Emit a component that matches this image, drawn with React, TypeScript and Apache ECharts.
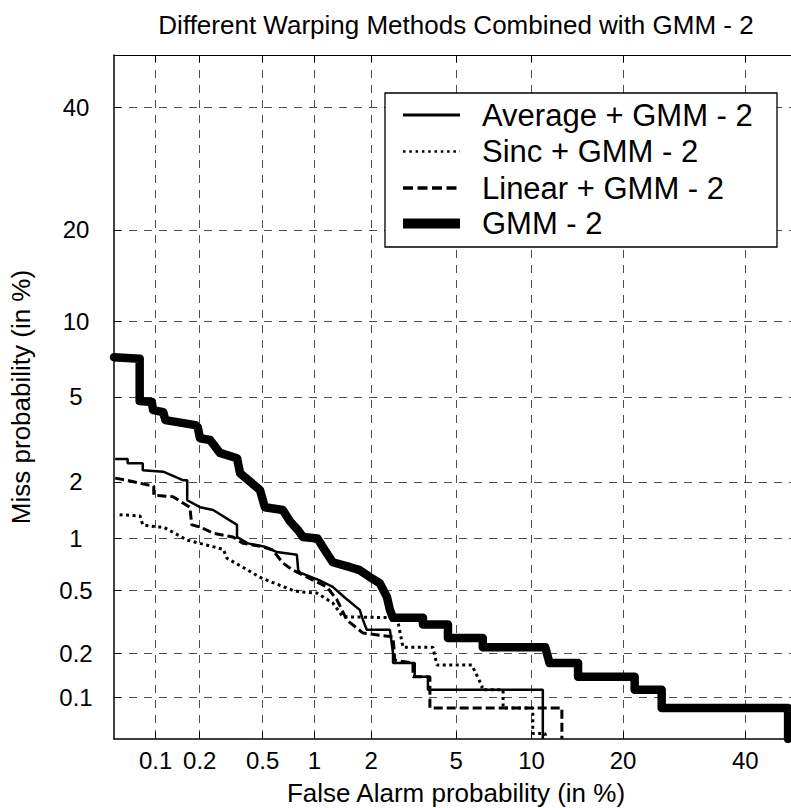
import { useEffect, useRef } from "react";
import * as echarts from "echarts";

// DET plot: both axes on a normal-deviate (probit) scale, values in percent.
const FA_TICKS = [0.1, 0.2, 0.5, 1, 2, 5, 10, 20, 40];
const MISS_TICKS = [0.1, 0.2, 0.5, 1, 2, 5, 10, 20, 40];
const AXIS_MIN_PCT = 0.05;
const AXIS_MAX_PCT = 50;

const SERIES_NAMES = ["Average + GMM - 2", "Sinc + GMM - 2", "Linear + GMM - 2", "GMM - 2"];

// [false alarm %, miss %]
const AVERAGE_GMM2 = [
  [0.051, 2.6], [0.063, 2.6], [0.063, 2.48], [0.081, 2.48], [0.081, 2.29], [0.113, 2.25],
  [0.154, 2.04], [0.165, 2.04], [0.165, 1.61], [0.201, 1.48], [0.245, 1.43], [0.348, 1.19],
  [0.348, 1.02], [0.407, 0.94], [0.516, 0.9], [0.61, 0.84], [0.796, 0.81], [0.81, 0.66],
  [0.83, 0.639], [1.06, 0.576], [1.26, 0.525], [1.45, 0.456], [1.75, 0.38], [1.82, 0.328],
  [1.9, 0.285], [2.48, 0.285], [2.57, 0.2], [2.57, 0.172], [3.26, 0.172], [3.26, 0.139],
  [3.75, 0.139], [3.75, 0.113], [10.98, 0.113], [10.98, 0.05],
];

const SINC_GMM2 = [
  [0.055, 1.35], [0.0775, 1.33], [0.081, 1.19], [0.102, 1.16], [0.113, 1.16], [0.165, 0.98],
  [0.201, 0.94], [0.285, 0.87], [0.3, 0.775], [0.482, 0.6], [0.531, 0.576], [0.755, 0.5],
  [0.83, 0.49], [1.03, 0.482], [1.07, 0.47], [1.26, 0.42], [1.43, 0.344], [2.69, 0.339],
  [2.87, 0.219], [3.95, 0.219], [4.12, 0.167], [5.83, 0.167], [6.42, 0.12], [6.42, 0.113],
  [7.8, 0.113], [7.8, 0.084], [10.1, 0.084], [10.1, 0.055], [11.2, 0.055], [11.2, 0.05],
];

const LINEAR_GMM2 = [
  [0.051, 2.09], [0.062, 2.04], [0.097, 1.9], [0.097, 1.71], [0.132, 1.68], [0.172, 1.48],
  [0.177, 1.19], [0.201, 1.16], [0.245, 1.07], [0.328, 1.02], [0.38, 0.94], [0.5, 0.9],
  [0.576, 0.862], [0.66, 0.726], [0.755, 0.66], [0.91, 0.6], [1.17, 0.525], [1.33, 0.437],
  [1.5, 0.328], [1.82, 0.271], [2.57, 0.256], [2.62, 0.18], [3.2, 0.172], [3.2, 0.139],
  [3.83, 0.139], [3.83, 0.084], [12.8, 0.084], [12.8, 0.05],
];

const GMM2 = [
  [0.05, 7.3], [0.077, 7.2], [0.077, 4.8], [0.094, 4.75], [0.096, 4.38], [0.113, 4.29],
  [0.117, 3.95], [0.187, 3.75], [0.194, 3.67], [0.201, 3.26], [0.234, 3.2], [0.271, 2.78],
  [0.348, 2.62], [0.364, 2.21], [0.482, 1.82], [0.516, 1.48], [0.66, 1.43], [0.726, 1.245],
  [0.81, 1.11], [0.862, 1.02], [1.04, 1.0], [1.14, 0.862], [1.26, 0.734], [1.56, 0.687],
  [1.75, 0.66], [1.97, 0.601], [2.21, 0.553], [2.4, 0.456], [2.48, 0.38], [2.57, 0.339],
  [3.56, 0.339], [3.56, 0.307], [4.61, 0.307], [4.61, 0.252], [6.47, 0.252], [6.47, 0.219],
  [11.2, 0.219], [11.6, 0.172], [14.5, 0.172], [14.5, 0.139], [21.6, 0.139], [21.6, 0.113],
  [25.6, 0.113], [25.6, 0.084], [48.1, 0.084], [48.1, 0.05],
];

const FONT = "'Liberation Sans', Arial, Helvetica, sans-serif";

// Inverse standard normal CDF (Acklam's rational approximation).
function probit(p: number): number {
  const a = [-3.969683028665376e1, 2.209460984245205e2, -2.759285104469687e2, 1.38357751867269e2, -3.066479806614716e1, 2.506628277459239];
  const b = [-5.447609879822406e1, 1.615858368580409e2, -1.556989798598866e2, 6.680131188771972e1, -1.328068155288572e1];
  const c = [-7.784894002430293e-3, -3.223964580411365e-1, -2.400758277161838, -2.549732539343734, 4.374664141464968, 2.938163982698783];
  const d = [7.784695709041462e-3, 3.224671290700398e-1, 2.445134137142996, 3.754408145737353];
  const pl = 0.02425;
  if (p < pl) {
    const q = Math.sqrt(-2 * Math.log(p));
    return (((((c[0] * q + c[1]) * q + c[2]) * q + c[3]) * q + c[4]) * q + c[5]) / ((((d[0] * q + d[1]) * q + d[2]) * q + d[3]) * q + 1);
  }
  if (p <= 1 - pl) {
    const q = p - 0.5;
    const r = q * q;
    return ((((((a[0] * r + a[1]) * r + a[2]) * r + a[3]) * r + a[4]) * r + a[5]) * q) / (((((b[0] * r + b[1]) * r + b[2]) * r + b[3]) * r + b[4]) * r + 1);
  }
  const q = Math.sqrt(-2 * Math.log(1 - p));
  return -(((((c[0] * q + c[1]) * q + c[2]) * q + c[3]) * q + c[4]) * q + c[5]) / ((((d[0] * q + d[1]) * q + d[2]) * q + d[3]) * q + 1);
}

const pct = (v: number) => probit(v / 100);
const toDet = (pts: number[][]) => pts.map(([fa, miss]) => [pct(fa), pct(miss)]);

const tickFormatter = (ticks: number[]) => (v: number) => {
  const i = ticks.findIndex((t) => Math.abs(pct(t) - v) < 1e-6);
  return i >= 0 ? String(ticks[i]) : "";
};

const GRID_DASH = [8, 7];

export default function App() {
  const ref = useRef<HTMLDivElement>(null);

  useEffect(() => {
    if (!ref.current) return;
    const chart = echarts.init(ref.current, null, { renderer: "svg" });

    const lo = pct(AXIS_MIN_PCT);
    const hi = pct(AXIS_MAX_PCT);
    const faTicks = FA_TICKS.map(pct);
    const missTicks = MISS_TICKS.map(pct);

    const frameLine = { show: true, onZero: false, lineStyle: { color: "#000", width: 1.5 } };
    const innerTick = (vals: number[]) => ({
      show: true,
      inside: true,
      length: 7,
      customValues: vals,
      lineStyle: { color: "#000", width: 1 },
    });
    const gridLine = { show: true, lineStyle: { type: GRID_DASH, color: "#4d4d4d", width: 1 } };

    const styles = [
      { color: "#000", width: 2.5, type: "solid" },
      { color: "#000", width: 3, type: [3, 3.5] },
      { color: "#000", width: 3, type: [9, 4] },
      { color: "#000", width: 8.5, type: "solid", cap: "round", join: "round" },
    ];
    const datasets = [AVERAGE_GMM2, SINC_GMM2, LINEAR_GMM2, GMM2];

    // Legend box drawn as graphics so each sample keeps its exact dash pattern.
    const legendRows = [115, 151.5, 188, 223.5];
    const legendSamples = [
      { lineWidth: 3, lineDash: null },
      { lineWidth: 2.5, lineDash: [2.5, 3.8] },
      { lineWidth: 3.5, lineDash: [10, 4.5] },
      { lineWidth: 10, lineDash: null },
    ];
    const legendGraphics: any[] = [
      {
        type: "rect",
        z: 100,
        shape: { x: 385, y: 93, width: 392, height: 154 },
        style: { fill: "#fff", stroke: "#000", lineWidth: 1.3 },
      },
    ];
    SERIES_NAMES.forEach((name, i) => {
      legendGraphics.push({
        type: "line",
        z: 101,
        shape: { x1: 403, y1: legendRows[i], x2: 460, y2: legendRows[i] },
        style: { stroke: "#000", lineWidth: legendSamples[i].lineWidth, lineDash: legendSamples[i].lineDash },
      });
      legendGraphics.push({
        type: "text",
        z: 101,
        x: 482,
        y: legendRows[i],
        style: { text: name, fontSize: 31, fontFamily: FONT, fill: "#000", align: "left", verticalAlign: "middle" },
      });
    });

    chart.setOption({
      animation: false,
      backgroundColor: "#fff",
      grid: { left: 114, top: 55, width: 684, height: 684, containLabel: false, outerBoundsMode: "none" },
      xAxis: [
        {
          type: "value",
          position: "bottom",
          min: lo,
          max: hi,
          name: "False Alarm probability (in %)",
          nameLocation: "middle",
          nameGap: 41,
          nameTextStyle: { fontSize: 26, fontFamily: FONT, color: "#000" },
          axisLine: frameLine,
          axisTick: innerTick(faTicks),
          axisLabel: {
            customValues: faTicks,
            formatter: tickFormatter(FA_TICKS),
            fontSize: 24,
            fontFamily: FONT,
            color: "#000",
            margin: 9,
          },
          splitLine: gridLine,
        },
        {
          type: "value",
          position: "top",
          min: lo,
          max: hi,
          axisLine: { ...frameLine, lineStyle: { color: "#000", width: 1 } },
          axisTick: innerTick(faTicks),
          axisLabel: { show: false },
          splitLine: { show: false },
        },
      ],
      yAxis: [
        {
          type: "value",
          position: "left",
          min: lo,
          max: hi,
          name: "Miss probability (in %)",
          nameLocation: "middle",
          nameGap: 80,
          nameTextStyle: { fontSize: 26, fontFamily: FONT, color: "#000" },
          axisLine: frameLine,
          axisTick: innerTick(missTicks),
          axisLabel: {
            customValues: missTicks,
            formatter: tickFormatter(MISS_TICKS),
            fontSize: 24,
            fontFamily: FONT,
            color: "#000",
            align: "center",
            margin: 38,
          },
          splitLine: gridLine,
        },
        {
          type: "value",
          position: "right",
          min: lo,
          max: hi,
          axisLine: frameLine,
          axisTick: innerTick(missTicks),
          axisLabel: { show: false },
          splitLine: { show: false },
        },
      ],
      graphic: [
        {
          type: "text",
          x: 456,
          y: 25,
          style: {
            text: "Different Warping Methods Combined with GMM - 2",
            fontSize: 26,
            fontFamily: FONT,
            fill: "#000",
            align: "center",
            verticalAlign: "middle",
          },
        },
        ...legendGraphics,
      ],
      series: datasets.map((pts, i) => ({
        type: "line",
        name: SERIES_NAMES[i],
        data: toDet(pts),
        xAxisIndex: 0,
        yAxisIndex: 0,
        symbol: "none",
        showSymbol: false,
        silent: true,
        clip: true,
        z: 2 + i,
        lineStyle: styles[i],
      })),
    });

    return () => chart.dispose();
  }, []);

  return (
    <div style={{ position: "absolute", left: 0, top: 0, width: 791, height: 808, overflow: "hidden", background: "#fff" }}>
      <div ref={ref} style={{ width: 810, height: 808 }} />
    </div>
  );
}
